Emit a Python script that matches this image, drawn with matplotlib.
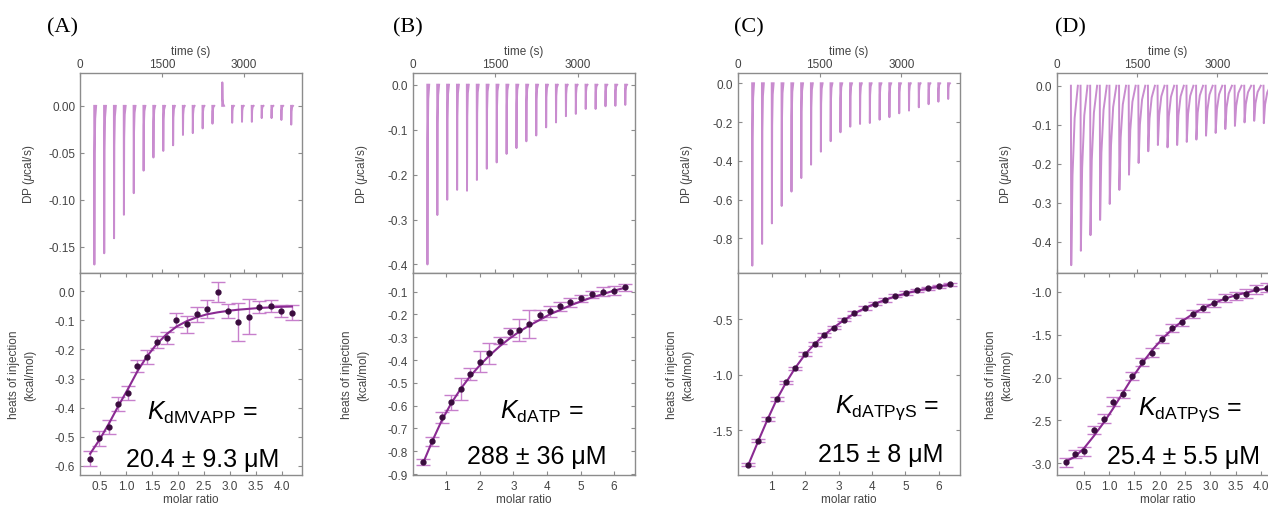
import matplotlib.pyplot as plt
from matplotlib.ticker import FormatStrFormatter

plt.rcParams['font.family'] = ['Liberation Sans', 'DejaVu Sans']
plt.rcParams['mathtext.fontset'] = 'custom'
plt.rcParams['mathtext.rm'] = 'Liberation Sans'
plt.rcParams['mathtext.it'] = 'Liberation Sans:italic'

W, H = 1268, 506

# injection times (s), shared by the four thermograms
inj_time = [260, 440, 620, 800, 980, 1160, 1340, 1520, 1700, 1880, 2060,
            2240, 2420, 2600, 2780, 2960, 3140, 3320, 3500, 3680, 3860]

# peak DP of each injection (ucal/s)
peak_a = [-0.169, -0.157, -0.141, -0.116, -0.093, -0.069, -0.055, -0.048, -0.042, -0.031, -0.029,
          -0.024, -0.019, 0.025, -0.018, -0.017, -0.017, -0.013, -0.013, -0.015, -0.020]
peak_b = [-0.400, -0.290, -0.256, -0.234, -0.236, -0.212, -0.187, -0.173, -0.154, -0.141, -0.126,
          -0.113, -0.095, -0.084, -0.070, -0.065, -0.054, -0.054, -0.048, -0.047, -0.045]
peak_c = [-0.941, -0.829, -0.723, -0.633, -0.559, -0.489, -0.420, -0.353, -0.299, -0.253, -0.224,
          -0.210, -0.205, -0.188, -0.175, -0.155, -0.141, -0.124, -0.108, -0.095, -0.081]
peak_d = [-0.460, -0.423, -0.383, -0.344, -0.303, -0.267, -0.228, -0.198, -0.168, -0.152, -0.158,
          -0.152, -0.144, -0.138, -0.128, -0.121, -0.111, -0.103, -0.094, -0.090, -0.096]

# integrated heats
ratio_a = [0.31, 0.49, 0.67, 0.85, 1.04, 1.22, 1.40, 1.59, 1.78, 1.97, 2.17,
           2.36, 2.55, 2.76, 2.96, 3.15, 3.36, 3.56, 3.78, 3.98, 4.19]
heat_a = [-0.575, -0.505, -0.467, -0.387, -0.349, -0.257, -0.226, -0.175, -0.162, -0.099, -0.114,
          -0.080, -0.061, -0.003, -0.069, -0.105, -0.088, -0.055, -0.051, -0.069, -0.074]
err_a = [0.025, 0.025, 0.025, 0.025, 0.025, 0.02, 0.025, 0.02, 0.02, 0.025, 0.03,
         0.025, 0.03, 0.035, 0.025, 0.065, 0.06, 0.02, 0.02, 0.02, 0.025]
fit_a = [-0.558, -0.510, -0.455, -0.395, -0.335, -0.275, -0.225, -0.182, -0.148, -0.122, -0.103,
         -0.090, -0.080, -0.073, -0.068, -0.064, -0.061, -0.058, -0.056, -0.054, -0.053]

ratio_b = [0.32, 0.59, 0.87, 1.15, 1.44, 1.72, 2.02, 2.29, 2.59, 2.89, 3.18,
           3.48, 3.78, 4.08, 4.39, 4.70, 5.02, 5.34, 5.68, 6.00, 6.32]
heat_b = [-0.846, -0.757, -0.651, -0.586, -0.527, -0.461, -0.407, -0.371, -0.315, -0.278, -0.268,
          -0.242, -0.202, -0.186, -0.164, -0.147, -0.129, -0.112, -0.100, -0.096, -0.081]
err_b = [0.012, 0.02, 0.025, 0.035, 0.048, 0.025, 0.045, 0.045, 0.015, 0.02, 0.05,
         0.06, 0.02, 0.025, 0.02, 0.02, 0.015, 0.015, 0.02, 0.02, 0.015]
fit_b = [-0.850, -0.755, -0.665, -0.590, -0.525, -0.470, -0.420, -0.380, -0.340, -0.305, -0.275,
         -0.248, -0.224, -0.200, -0.180, -0.160, -0.142, -0.125, -0.110, -0.095, -0.083]

ratio_c = [0.30, 0.60, 0.88, 1.15, 1.43, 1.70, 2.00, 2.29, 2.57, 2.86, 3.17,
           3.47, 3.79, 4.09, 4.39, 4.70, 5.03, 5.35, 5.68, 6.00, 6.33]
heat_c = [-1.812, -1.596, -1.400, -1.220, -1.070, -0.944, -0.815, -0.725, -0.644, -0.578, -0.506,
          -0.446, -0.400, -0.362, -0.329, -0.290, -0.266, -0.242, -0.224, -0.206, -0.188]
err_c = [0.015] * 21
fit_c = [-1.815, -1.598, -1.402, -1.225, -1.072, -0.942, -0.818, -0.723, -0.643, -0.575, -0.508,
         -0.450, -0.401, -0.361, -0.327, -0.295, -0.268, -0.244, -0.223, -0.205, -0.189]

ratio_d = [0.14, 0.33, 0.51, 0.70, 0.90, 1.08, 1.27, 1.46, 1.66, 1.85, 2.05,
           2.24, 2.45, 2.65, 2.86, 3.08, 3.29, 3.50, 3.71, 3.91, 4.12]
heat_d = [-2.99, -2.89, -2.86, -2.61, -2.48, -2.28, -2.19, -1.98, -1.82, -1.71, -1.55,
          -1.42, -1.35, -1.26, -1.19, -1.13, -1.07, -1.05, -1.02, -0.97, -0.95]
err_d = [0.05] * 21
fit_d = [-2.98, -2.92, -2.82, -2.68, -2.52, -2.36, -2.18, -2.00, -1.83, -1.68, -1.55,
         -1.44, -1.34, -1.26, -1.19, -1.13, -1.08, -1.04, -1.01, -0.98, -0.96]

labels = ['(A)', '(B)', '(C)', '(D)']
kd_names = [r'$K_{\mathrm{dMVAPP}}$ =', r'$K_{\mathrm{dATP}}$ =',
            r'$K_{\mathrm{dATPγS}}$ =', r'$K_{\mathrm{dATPγS}}$ =']
kd_values = ['20.4 ± 9.3 μM', '288 ± 36 μM', '215 ± 8 μM', '25.4 ± 5.5 μM']

SPIKE = '#c98ccf'
BAR = '#c77fcc'
FIT = '#8a2a92'
DOT = '#3a0d3e'
GREY = '#444444'


def px(x, y):
    return x / W, 1 - y / H


def style_axes(ax):
    for s in ax.spines.values():
        s.set_color('#8c8c8c')
        s.set_linewidth(1.0)
    ax.tick_params(direction='in', length=3, width=0.8, color='#8c8c8c',
                   labelsize=8.5, labelcolor=GREY, top=True, right=True)


def draw_spikes(ax, times, peaks, dt, frac):
    for t, p in zip(times, peaks):
        ax.plot([t + d for d in dt], [p * f for f in frac], color=SPIKE, lw=1.4)


left_px = [80, 413, 738, 1057]
ax_w = 222
peaks = [peak_a, peak_b, peak_c, peak_d]
top_ylim = [(-0.178, 0.035), (-0.419, 0.026), (-0.979, 0.053), (-0.48, 0.0326)]
top_yticks = [[0.0, -0.05, -0.10, -0.15], [0.0, -0.1, -0.2, -0.3, -0.4],
              [0.0, -0.2, -0.4, -0.6, -0.8], [0.0, -0.1, -0.2, -0.3, -0.4]]
top_fmt = ['%.2f', '%.1f', '%.1f', '%.1f']
time_max = [4060, 4040, 4080, 4150]

ratios = [ratio_a, ratio_b, ratio_c, ratio_d]
heats = [heat_a, heat_b, heat_c, heat_d]
errs = [err_a, err_b, err_c, err_d]
fits = [fit_a, fit_b, fit_c, fit_d]
bot_xlim = [(0.115, 4.385), (0.015, 6.62), (-0.007, 6.63), (-0.03, 4.36)]
bot_xticks = [[0.5, 1.0, 1.5, 2.0, 2.5, 3.0, 3.5, 4.0], [1, 2, 3, 4, 5, 6],
              [1, 2, 3, 4, 5, 6], [0.5, 1.0, 1.5, 2.0, 2.5, 3.0, 3.5, 4.0]]
bot_xfmt = ['%.1f', '%d', '%d', '%.1f']
bot_ylim = [(-0.631, 0.062), (-0.904, -0.018), (-1.905, -0.085), (-3.136, -0.78)]
bot_yticks = [[0.0, -0.1, -0.2, -0.3, -0.4, -0.5, -0.6],
              [-0.1, -0.2, -0.3, -0.4, -0.5, -0.6, -0.7, -0.8, -0.9],
              [-0.5, -1.0, -1.5], [-1.0, -1.5, -2.0, -2.5, -3.0]]

kd_pos = [(147, 413), (500, 412), (835, 408), (1138, 410)]
val_pos = [(126, 460), (467, 457), (818, 455), (1107, 457)]
lab_pos = [(62, 28), (408, 28), (749, 28), (1070, 28)]

fig = plt.figure(figsize=(W / 100, H / 100), dpi=100)

for i in range(4):
    x0 = left_px[i] / W
    # thermogram
    ax = fig.add_axes([x0, 1 - 274 / H, ax_w / W, 200 / H])
    style_axes(ax)
    if i == 3:
        draw_spikes(ax, inj_time, peaks[i], [0, 6, 30, 70, 130], [0, 1, 0.5, 0.18, 0])
    else:
        draw_spikes(ax, inj_time, peaks[i], [0, 3, 8, 18, 35], [0, 1, 0.3, 0.08, 0])
    ax.set_xlim(0, time_max[i])
    ax.set_ylim(*top_ylim[i])
    ax.set_xticks([0, 1500, 3000])
    ax.set_yticks(top_yticks[i])
    ax.yaxis.set_major_formatter(FormatStrFormatter(top_fmt[i]))
    ax.xaxis.tick_top()
    ax.tick_params(axis='x', bottom=True, top=True, labeltop=True, labelbottom=False, pad=2)
    ax.xaxis.set_label_position('top')
    ax.set_xlabel('time (s)', fontsize=8.5, color=GREY, labelpad=3)
    ax.set_ylabel(r'DP ($\mu$cal/s)', fontsize=8.5, color=GREY)
    ax.yaxis.set_label_coords(-0.195, 0.5)

    # binding isotherm
    bx = fig.add_axes([x0, 1 - 476 / H, ax_w / W, 202 / H])
    style_axes(bx)
    bx.errorbar(ratios[i], heats[i], yerr=errs[i], fmt='none', ecolor=BAR,
                elinewidth=1.0, capsize=5, capthick=1.0, zorder=2)
    bx.plot(ratios[i], fits[i], color=FIT, lw=1.5, zorder=3)
    bx.plot(ratios[i], heats[i], 'o', color=DOT, ms=3.5, zorder=4)
    bx.set_xlim(*bot_xlim[i])
    bx.set_ylim(*bot_ylim[i])
    bx.set_xticks(bot_xticks[i])
    bx.xaxis.set_major_formatter(FormatStrFormatter(bot_xfmt[i]))
    bx.set_yticks(bot_yticks[i])
    bx.yaxis.set_major_formatter(FormatStrFormatter('%.1f'))
    bx.set_xlabel('molar ratio', fontsize=8.5, color=GREY, labelpad=1)
    bx.set_ylabel('heats of injection\n(kcal/mol)', fontsize=8.5, color=GREY, linespacing=1.5)
    bx.yaxis.set_label_coords(-0.195, 0.5)

    fig.text(*px(*kd_pos[i]), kd_names[i], fontsize=18, ha='left', va='center')
    fig.text(*px(*val_pos[i]), kd_values[i], fontsize=18, ha='left', va='center')
    fig.text(*px(*lab_pos[i]), labels[i], fontsize=16, family='Liberation Serif',
             ha='center', va='center')

fig.savefig('out.png', dpi=100)
